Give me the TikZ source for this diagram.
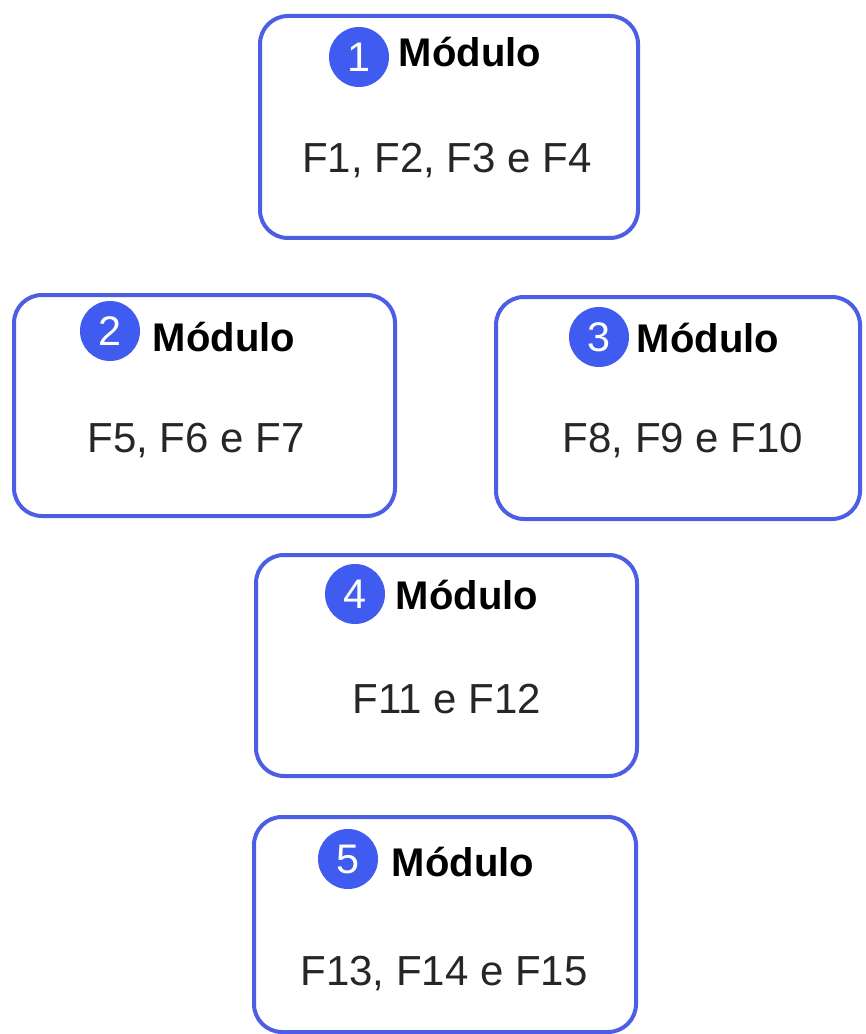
\documentclass[tikz,border=0pt]{standalone}
\usepackage{fontspec}
\setmainfont{Liberation Sans}
\definecolor{boxblue}{RGB}{76,94,228}
\definecolor{circblue}{RGB}{64,92,240}
\begin{document}
\begin{tikzpicture}[x=0.75pt,y=-0.75pt,
  modbox/.style={draw=boxblue, line width=3pt, rounded corners=21pt, fill=white, inner sep=0pt, outer sep=0pt},
  numdot/.style={circle, fill=circblue, minimum size=45pt, inner sep=0pt, text=white, font=\fontsize{31}{31}\selectfont},
  modtitle/.style={anchor=base, inner sep=0pt, font=\fontsize{30}{30}\selectfont\bfseries},
  modtext/.style={anchor=base, inner sep=0pt, font=\fontsize{31.5}{32}\selectfont, text=black!85}]
\useasboundingbox (0,0) rectangle (865,1034);
% boxes
\node[modbox, minimum width=283.5pt, minimum height=166.5pt] (b1) at (449,127) {};
\node[modbox, minimum width=285.75pt, minimum height=165.75pt] (b2) at (204.5,405.5) {};
\node[modbox, minimum width=273pt, minimum height=166.5pt] (b3) at (678,408) {};
\node[modbox, minimum width=285.75pt, minimum height=165.75pt] (b4) at (446.5,665.5) {};
\node[modbox, minimum width=286.5pt, minimum height=161.25pt] (b5) at (445,924.5) {};
% number dots
\node[numdot] (c1) at (359,57) {1};
\node[numdot] (c2) at (110,331) {2};
\node[numdot] (c3) at (599,337) {3};
\node[numdot] (c4) at (355,594) {4};
\node[numdot] (c5) at (348,859) {5};
% titles
\node[modtitle] (t1) at (470,67) {Módulo};
\node[modtitle] (t2) at (224,351) {Módulo};
\node[modtitle] (t3) at (708,352) {Módulo};
\node[modtitle] (t4) at (467,609) {Módulo};
\node[modtitle] (t5) at (463,876) {Módulo};
% contents
\node[modtext] (f1) at (447,173) {F1, F2, F3 e F4};
\node[modtext] (f2) at (196,452) {F5, F6 e F7};
\node[modtext] (f3) at (683,452) {F8, F9 e F10};
\node[modtext] (f4) at (447,713) {F11 e F12};
\node[modtext] (f5) at (444,985) {F13, F14 e F15};
\end{tikzpicture}
\end{document}
